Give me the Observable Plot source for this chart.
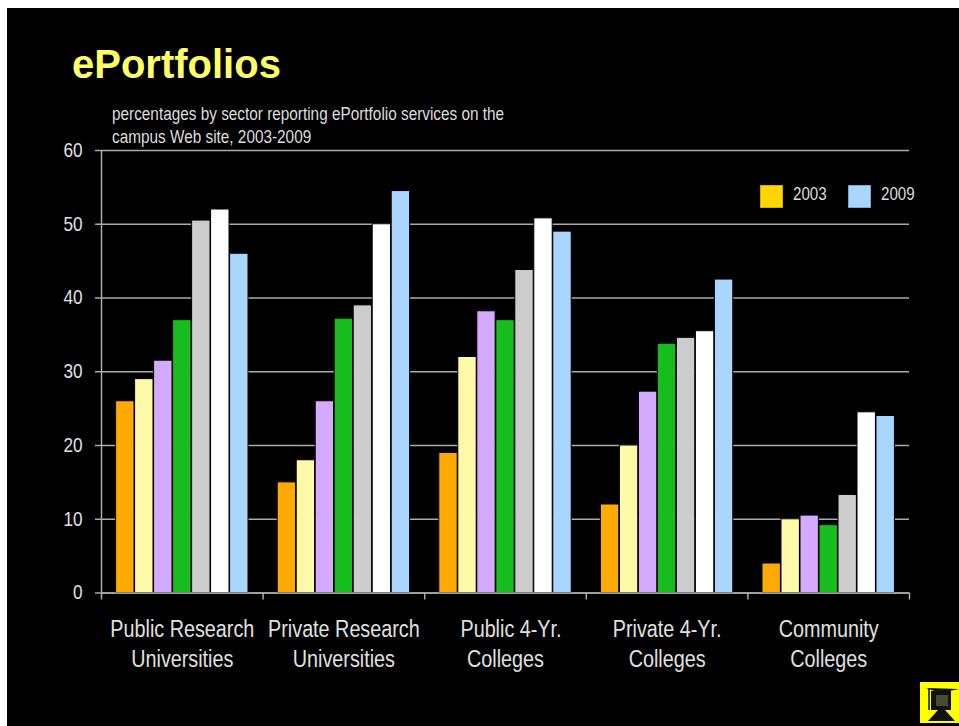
<!DOCTYPE html>
<html>
<head>
<meta charset="utf-8">
<script src="https://cdn.jsdelivr.net/npm/d3@7"></script>
<script src="https://cdn.jsdelivr.net/npm/@observablehq/plot@0.6"></script>
<style>
  html, body { margin: 0; padding: 0; background: #fff; width: 959px; height: 726px; overflow: hidden; }
  #panel { position: absolute; left: 7px; top: 8px; width: 952px; height: 718px; background: #000; }
  #chart { position: absolute; left: 0; top: 0; }
  #chart svg { background: transparent; display: block; }
  .t { position: absolute; white-space: nowrap; font-family: "Liberation Sans", Arial, sans-serif; transform-origin: left center; }
  #title { left: 72px; top: 42px; font: bold 40px/44px "Liberation Sans", Arial, sans-serif; color: #ffff66; }
  #sub { left: 112px; top: 103px; font-size: 18px; line-height: 23px; color: #dddddd; transform: scaleX(.852); }
  .sw { position: absolute; width: 23px; height: 23px; top: 185px; }
  .lg { top: 183px; font-size: 18px; line-height: 22px; color: #dddddd; transform: scaleX(.84); }
  #icon { position: absolute; left: 920px; top: 682px; }
</style>
</head>
<body>
<div id="panel"></div>
<div id="chart"></div>
<div class="t" id="title">ePortfolios</div>
<div class="t" id="sub">percentages by sector reporting ePortfolio services on the<br>campus Web site, 2003-2009</div>
<div class="sw" style="left:759.5px;background:#ffd400;box-shadow:inset 0 0 0 .5px #a88c00"></div>
<div class="t lg" style="left:792.5px">2003</div>
<div class="sw" style="left:847.5px;background:#a9d5ff;box-shadow:inset 0 0 0 .5px #5a7a99"></div>
<div class="t lg" style="left:880.5px">2009</div>
<svg id="icon" width="39" height="41" viewBox="0 0 39 41">
  <rect width="39" height="41" fill="#ffff00"/>
  <path d="M6 6L39 7L20 11Z" fill="#111"/>
  <path d="M9 6V28" stroke="#111" stroke-width="1.5"/>
  <rect x="11" y="9" width="20" height="19" fill="#111"/>
  <rect x="16" y="13" width="12" height="11" fill="#4a4a30"/>
  <path d="M18 28H25L35 39H8Z" fill="#111"/>
</svg>
<script>
const sectors = ["Public Research\nUniversities", "Private Research\nUniversities", "\u00a0\u00a0Public 4-Yr.\nColleges", "Private 4-Yr.\nColleges", "Community\nColleges"];
const years = ["2003", "2004", "2005", "2006", "2007", "2008", "2009"];
const colors = ["#ffaa00", "#fffaaa", "#d4aaff", "#17bd1c", "#cccccc", "#ffffff", "#a9d5ff"];
const publicResearch = [26, 29, 31.5, 37, 50.5, 52, 46];
const privateResearch = [15, 18, 26, 37.2, 39, 50, 54.5];
const public4Yr = [19, 32, 38.2, 37, 43.8, 50.8, 49];
const private4Yr = [12, 20, 27.3, 33.8, 34.6, 35.5, 42.5];
const community = [4, 10, 10.5, 9.2, 13.3, 24.5, 24];

const rows = [publicResearch, privateResearch, public4Yr, private4Yr, community].flatMap((vals, g) =>
  vals.map((v, s) => ({group: g, series: s, year: years[s], value: v})));

const groupWidth = 161.6;
const x1 = d => d.group + (14.6 + d.series * 19) / groupWidth;
const x2 = d => d.group + (33 + d.series * 19) / groupWidth;
const axisColor = "#aaaaaa";
const labelColor = "#e0e0e0";
const font = '"Liberation Sans", Arial, sans-serif';

const plot = Plot.plot({
  width: 959,
  height: 726,
  marginLeft: 101,
  marginRight: 50,
  marginTop: 150,
  marginBottom: 133.5,
  style: {background: "transparent", fontFamily: font},
  x: {domain: [0, sectors.length], axis: null},
  y: {domain: [0, 60], axis: null},
  color: {domain: years, range: colors},
  marks: [
    Plot.gridY([0, 10, 20, 30, 40, 50, 60], {stroke: axisColor, strokeOpacity: 1, strokeWidth: 1.5}),
    Plot.axisY({ticks: [0, 10, 20, 30, 40, 50, 60], tickSize: 6, tickPadding: 13, stroke: axisColor, strokeWidth: 1.5, fill: labelColor, fontSize: 20, label: null}),
    Plot.ruleX([0], {stroke: axisColor, strokeWidth: 1.5}),
    Plot.rectY(rows, {x1, x2, y: "value", fill: "year", stroke: "#000", strokeWidth: 1}),
    Plot.ruleY([0], {stroke: axisColor, strokeWidth: 1.5}),
    Plot.axisX({ticks: d3.range(sectors.length + 1), tickSize: 7, tickFormat: null, stroke: axisColor, strokeWidth: 1.5, label: null, text: null}),
    Plot.axisX({ticks: sectors.map((_, i) => i + 0.5), tickSize: 0, tickPadding: 23, tickFormat: v => sectors[v - 0.5], fill: labelColor, fontSize: 23, lineHeight: 1.3, label: null})
  ]
});
// Condense the axis labels horizontally: the reference uses a narrow sans face that is not installed.
plot.querySelectorAll('g[aria-label="y-axis tick label"] text, g[aria-label="x-axis tick label"] text').forEach(t => {
  const tr = t.getAttribute("transform") || "";
  t.setAttribute("transform", tr + " scale(0.86,1)");
});
document.getElementById("chart").appendChild(plot);
</script>
</body>
</html>
